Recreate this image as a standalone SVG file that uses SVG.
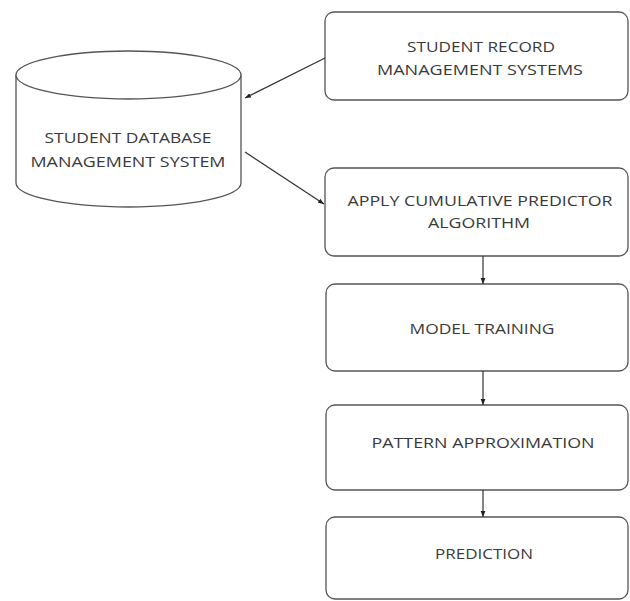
<svg xmlns="http://www.w3.org/2000/svg" width="630" height="601" viewBox="0 0 630 601">
<style>
.box{fill:#fff;stroke:#555;stroke-width:1.3}
.lbl{font-family:"Open Sans","Liberation Sans",sans-serif;font-size:14.5px;fill:#3a3a3a;text-anchor:middle;dominant-baseline:central}
.conn{stroke:#333;stroke-width:1.2;fill:none;marker-end:url(#ah)}
</style>
<defs>
<marker id="ah" viewBox="0 0 10 10" refX="10" refY="5" markerWidth="6" markerHeight="6" orient="auto" markerUnits="userSpaceOnUse">
<path d="M0,1 L10,5 L0,9 z" fill="#222"/>
</marker>
</defs>
<rect width="630" height="601" fill="#fff"/>
<g id="db">
<path class="box" d="M16,75 L16,183 A112.5,24 0 0 0 241,183 L241,75 A112.5,24 0 0 0 16,75 Z"/>
<path class="box" d="M16,75 A112.5,24 0 0 0 241,75" fill="none"/>
<text class="lbl" x="128" y="137" textLength="167" lengthAdjust="spacingAndGlyphs">STUDENT DATABASE</text>
<text class="lbl" x="128" y="161" textLength="195" lengthAdjust="spacingAndGlyphs">MANAGEMENT SYSTEM</text>
</g>
<g id="records">
<rect class="box" x="325" y="12" width="303" height="88" rx="9"/>
<text class="lbl" x="481" y="46" textLength="148" lengthAdjust="spacingAndGlyphs">STUDENT RECORD</text>
<text class="lbl" x="480" y="69" textLength="206" lengthAdjust="spacingAndGlyphs">MANAGEMENT SYSTEMS</text>
</g>
<g id="apply">
<rect class="box" x="325" y="168" width="303" height="88" rx="9"/>
<text class="lbl" x="480" y="200" textLength="265" lengthAdjust="spacingAndGlyphs">APPLY CUMULATIVE PREDICTOR</text>
<text class="lbl" x="479" y="222" textLength="102" lengthAdjust="spacingAndGlyphs">ALGORITHM</text>
</g>
<g id="training">
<rect class="box" x="326" y="284" width="302" height="87" rx="9"/>
<text class="lbl" x="482" y="328" textLength="145" lengthAdjust="spacingAndGlyphs">MODEL TRAINING</text>
</g>
<g id="pattern">
<rect class="box" x="326" y="405" width="302" height="85" rx="9"/>
<text class="lbl" x="483" y="442" textLength="223" lengthAdjust="spacingAndGlyphs">PATTERN APPROXIMATION</text>
</g>
<g id="prediction">
<rect class="box" x="326" y="517" width="302" height="82" rx="9"/>
<text class="lbl" x="484" y="553" textLength="98" lengthAdjust="spacingAndGlyphs">PREDICTION</text>
</g>
<g id="connectors">
<line class="conn" x1="325" y1="58" x2="245" y2="98"/>
<line class="conn" x1="245" y1="152" x2="324" y2="204"/>
<line class="conn" x1="483" y1="256" x2="483" y2="284"/>
<line class="conn" x1="483" y1="371" x2="483" y2="405"/>
<line class="conn" x1="483" y1="490" x2="483" y2="517"/>
</g>
</svg>
